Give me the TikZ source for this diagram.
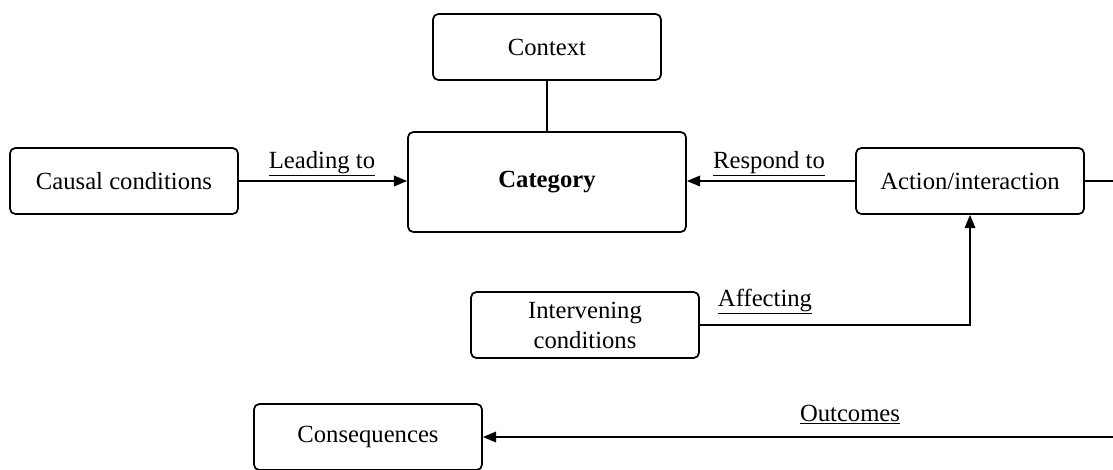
\documentclass[tikz,border=0pt]{standalone}
\usepackage{fontspec}
\setmainfont{Liberation Serif}
\usetikzlibrary{arrows.meta}
\tikzset{
	box/.style={draw, line width=1.3pt, rounded corners=4pt, minimum width=171pt, minimum height=49.5pt, align=center, inner sep=0pt},
	lbl/.style={inner sep=0pt, anchor=base},
	ln/.style={line width=1.3pt},
	arr/.style={line width=1.3pt, -{Triangle[length=10pt,width=8pt]}}
}
\begin{document}
\begin{tikzpicture}[x=0.75pt,y=-0.75pt,font=\fontsize{18.5}{22.5}\selectfont]
				\useasboundingbox (0,0) rectangle (1113,469);
				\node[box] (ctx) at (547,47) {Context};
				\node[box, minimum width=208.5pt, minimum height=75pt] (cat) at (547,182) {\textbf{Category}};
				\node[box] (cc) at (124,181) {Causal conditions};
				\node[box] (ai) at (970,181) {Action/interaction};
				\node[box] (ic) at (585,325) {Intervening\\conditions};
				\node[box] (cq) at (368,437) {Consequences};
				\node[lbl] (lead) at (322,168) {\underline{Leading to}};
				\node[lbl] (resp) at (769,168) {\underline{Respond to}};
				\node[lbl] (affe) at (765,306) {\underline{Affecting}};
				\node[lbl] (outc) at (850,421) {\underline{Outcomes}};
				\coordinate (rt) at (1122,0);
				\draw [ln] (ctx) -- (cat);
				\draw [arr] (cc.east) -- (cat.west |- cc.east);
				\draw [arr] (ai.west) -- (cat.east |- ai.west);
				\draw [arr] (ic.east) -| (ai.south);
				\draw [arr] (ai.east) -- (ai.east -| rt) |- (cq.east);
			\end{tikzpicture}
\end{document}
